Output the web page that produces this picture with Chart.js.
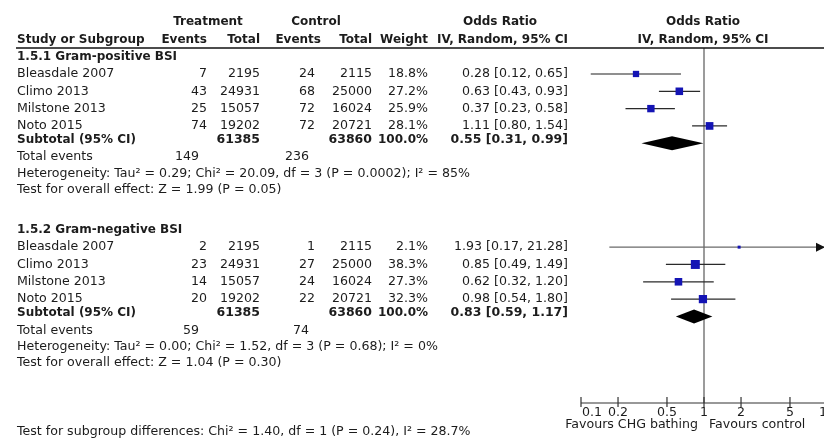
<!DOCTYPE html>
<html>
<head>
<meta charset="utf-8">
<script src="https://cdn.jsdelivr.net/npm/chart.js@4"></script>
<style>
  html, body { margin: 0; padding: 0; background: #fff; overflow: hidden; }
  #forest { display: block; }
</style>
</head>
<body>
<canvas id="forest" width="840" height="444"></canvas>
<script>
/*data*/
let studies = ['Bleasdale 2007', 'Climo 2013', 'Milstone 2013', 'Noto 2015'];
let groupTitles = ['1.5.1 Gram-positive BSI', '1.5.2 Gram-negative BSI'];
let treatTotal = [2195, 24931, 15057, 19202];
let ctrlTotal = [2115, 25000, 16024, 20721];

let posTreatEvents = [7, 43, 25, 74];
let posCtrlEvents = [24, 68, 72, 72];
let posWeight = [18.8, 27.2, 25.9, 28.1];
let posOR = [0.28, 0.63, 0.37, 1.11];
let posLow = [0.12, 0.43, 0.23, 0.80];
let posHigh = [0.65, 0.93, 0.58, 1.54];
let posSubtotal = [0.55, 0.31, 0.99];

let negTreatEvents = [2, 23, 14, 20];
let negCtrlEvents = [1, 27, 24, 22];
let negWeight = [2.1, 38.3, 27.3, 32.3];
let negOR = [1.93, 0.85, 0.62, 0.98];
let negLow = [0.17, 0.49, 0.32, 0.54];
let negHigh = [21.28, 1.49, 1.20, 1.80];
let negSubtotal = [0.83, 0.59, 1.17];

let totalEvents = [[149, 236], [59, 74]];
let heterogeneity = [
    'Heterogeneity: Tau² = 0.29; Chi² = 20.09, df = 3 (P = 0.0002); I² = 85%',
    'Heterogeneity: Tau² = 0.00; Chi² = 1.52, df = 3 (P = 0.68); I² = 0%'
];
let overallEffect = [
    'Test for overall effect: Z = 1.99 (P = 0.05)',
    'Test for overall effect: Z = 1.04 (P = 0.30)'
];
let subgroupTest = 'Test for subgroup differences: Chi² = 1.40, df = 1 (P = 0.24), I² = 28.7%';
let axisTicks = [0.1, 0.2, 0.5, 1, 2, 5, 10];
/**/

let groups = [
    { start: 0, tE: posTreatEvents, cE: posCtrlEvents, w: posWeight, or: posOR, lo: posLow, hi: posHigh, sub: posSubtotal },
    { start: 10, tE: negTreatEvents, cE: negCtrlEvents, w: negWeight, or: negOR, lo: negLow, hi: negHigh, sub: negSubtotal }
];

let points = [];
let radii = [];
groups.forEach(g => {
    g.or.forEach((v, i) => {
        points.push({ x: v, y: g.start + i });
        let side = Math.max(3, 1.45 * Math.sqrt(g.w[i]));
        radii.push(side / 2 / Math.SQRT1_2);
    });
});

function fmt(v) { return v.toFixed(2); }
function pct(v) { return v.toFixed(1) + '%'; }

let textColor = '#1c1c1c';
let regular = '12.6px "DejaVu Sans"';
let bold = 'bold 12px "DejaVu Sans"';
let numBold = 'bold 12.5px "DejaVu Sans"';

function txt(ctx, s, x, y, align, font) {
    ctx.font = font || regular;
    ctx.textAlign = align || 'left';
    ctx.fillText(s, x, y);
}

let marksPlugin = {
    id: 'marks',
    beforeDatasetsDraw(chart) {
        let ctx = chart.ctx;
        let xs = chart.scales.x;
        let ys = chart.scales.y;
        let area = chart.chartArea;
        ctx.save();
        // line of no effect
        ctx.strokeStyle = '#7a7a7a';
        ctx.lineWidth = 1.5;
        ctx.beginPath();
        ctx.moveTo(xs.getPixelForValue(1), area.top);
        ctx.lineTo(xs.getPixelForValue(1), area.bottom);
        ctx.stroke();

        groups.forEach(g => {
            g.or.forEach((v, i) => {
                let y = ys.getPixelForValue(g.start + i);
                let lo = Math.max(g.lo[i], xs.min);
                let hi = Math.min(g.hi[i], xs.max);
                let x1 = xs.getPixelForValue(lo);
                let x2 = xs.getPixelForValue(hi);
                ctx.strokeStyle = g.w[i] < 20 ? '#6a6a6a' : '#2a2a2a';
                ctx.lineWidth = 1.3;
                ctx.beginPath();
                ctx.moveTo(x1, y);
                ctx.lineTo(x2, y);
                ctx.stroke();
                if (g.hi[i] > xs.max) {
                    ctx.fillStyle = '#111';
                    ctx.beginPath();
                    ctx.moveTo(x2 - 2, y);
                    ctx.lineTo(x2 - 11, y - 4.5);
                    ctx.lineTo(x2 - 11, y + 4.5);
                    ctx.closePath();
                    ctx.fill();
                }
            });
            // subtotal diamond
            let yd = ys.getPixelForValue(g.start + 4);
            ctx.fillStyle = '#000';
            ctx.beginPath();
            ctx.moveTo(xs.getPixelForValue(g.sub[1]), yd);
            ctx.lineTo(xs.getPixelForValue(g.sub[0]), yd - 7);
            ctx.lineTo(xs.getPixelForValue(g.sub[2]), yd);
            ctx.lineTo(xs.getPixelForValue(g.sub[0]), yd + 7);
            ctx.closePath();
            ctx.fill();
        });
        ctx.restore();
    },
    afterDraw(chart) {
        let ctx = chart.ctx;
        let xs = chart.scales.x;
        let ys = chart.scales.y;
        let area = chart.chartArea;
        ctx.save();
        ctx.fillStyle = textColor;
        ctx.textBaseline = 'middle';

        // header
        txt(ctx, 'Treatment', 208, 22, 'center', bold);
        txt(ctx, 'Control', 316, 22, 'center', bold);
        txt(ctx, 'Odds Ratio', 500, 22, 'center', bold);
        txt(ctx, 'Odds Ratio', 703, 22, 'center', bold);
        txt(ctx, 'Study or Subgroup', 17, 40, 'left', bold);
        txt(ctx, 'Events', 207, 40, 'right', bold);
        txt(ctx, 'Total', 260, 40, 'right', bold);
        txt(ctx, 'Events', 321, 40, 'right', bold);
        txt(ctx, 'Total', 372, 40, 'right', bold);
        txt(ctx, 'Weight', 428, 40, 'right', bold);
        txt(ctx, 'IV, Random, 95% CI', 568, 40, 'right', bold);
        txt(ctx, 'IV, Random, 95% CI', 703, 40, 'center', bold);

        ctx.strokeStyle = '#111';
        ctx.lineWidth = 1.5;
        ctx.beginPath();
        ctx.moveTo(16, area.top);
        ctx.lineTo(area.right + 20, area.top);
        ctx.stroke();

        groups.forEach((g, gi) => {
            let py = r => ys.getPixelForValue(g.start + r);
            txt(ctx, groupTitles[gi], 17, py(-1), 'left', bold);
            studies.forEach((s, i) => {
                let y = py(i);
                txt(ctx, s, 17, y);
                txt(ctx, String(g.tE[i]), 207, y, 'right');
                txt(ctx, String(treatTotal[i]), 260, y, 'right');
                txt(ctx, String(g.cE[i]), 315, y, 'right');
                txt(ctx, String(ctrlTotal[i]), 372, y, 'right');
                txt(ctx, pct(g.w[i]), 428, y, 'right');
                txt(ctx, fmt(g.or[i]) + ' [' + fmt(g.lo[i]) + ', ' + fmt(g.hi[i]) + ']', 568, y, 'right');
            });
            let ys2 = py(3.8);
            let sumT = treatTotal.reduce((a, b) => a + b, 0);
            let sumC = ctrlTotal.reduce((a, b) => a + b, 0);
            let sumW = g.w.reduce((a, b) => a + b, 0);
            txt(ctx, 'Subtotal (95% CI)', 17, ys2, 'left', bold);
            txt(ctx, String(sumT), 260, ys2, 'right', numBold);
            txt(ctx, String(sumC), 372, ys2, 'right', numBold);
            txt(ctx, pct(Math.round(sumW)), 428, ys2, 'right', bold);
            txt(ctx, fmt(g.sub[0]) + ' [' + fmt(g.sub[1]) + ', ' + fmt(g.sub[2]) + ']', 568, ys2, 'right', numBold);
            let yt = py(4.8);
            txt(ctx, 'Total events', 17, yt);
            txt(ctx, String(totalEvents[gi][0]), 199, yt, 'right');
            txt(ctx, String(totalEvents[gi][1]), 309, yt, 'right');
            txt(ctx, heterogeneity[gi], 17, py(5.75));
            txt(ctx, overallEffect[gi], 17, py(6.7));
        });

        // x axis
        let ay = area.bottom;
        ctx.strokeStyle = '#333';
        ctx.lineWidth = 1.2;
        ctx.beginPath();
        ctx.moveTo(xs.getPixelForValue(axisTicks[0]), ay);
        ctx.lineTo(area.right, ay);
        axisTicks.forEach(t => {
            let x = xs.getPixelForValue(t);
            ctx.moveTo(x, ay - 6);
            ctx.lineTo(x, ay + 4);
        });
        ctx.stroke();
        axisTicks.forEach((t, i) => {
            let x = xs.getPixelForValue(t);
            if (i === 0) txt(ctx, String(t), x + 1, ay + 10, 'left');
            else txt(ctx, String(t), x, ay + 10, 'center');
        });
        txt(ctx, 'Favours CHG bathing', xs.getPixelForValue(1) - 6, ay + 22, 'right');
        txt(ctx, 'Favours control', xs.getPixelForValue(1) + 5, ay + 22, 'left');

        txt(ctx, subgroupTest, 17, 432);
        ctx.restore();
    }
};

new Chart(document.getElementById('forest'), {
    type: 'scatter',
    data: {
        datasets: [{
            data: points,
            pointStyle: 'rect',
            pointRadius: radii,
            backgroundColor: '#1414b4',
            borderWidth: 0
        }]
    },
    options: {
        responsive: false,
        animation: false,
        devicePixelRatio: 1,
        layout: { padding: { left: 581, right: 13, top: 48, bottom: 41 } },
        scales: {
            x: { type: 'logarithmic', min: 0.1, max: 10, display: false },
            y: { type: 'linear', min: -1.5, max: 19, reverse: true, display: false }
        },
        plugins: {
            legend: { display: false },
            tooltip: { enabled: false }
        }
    },
    plugins: [marksPlugin]
});
</script>
</body>
</html>
